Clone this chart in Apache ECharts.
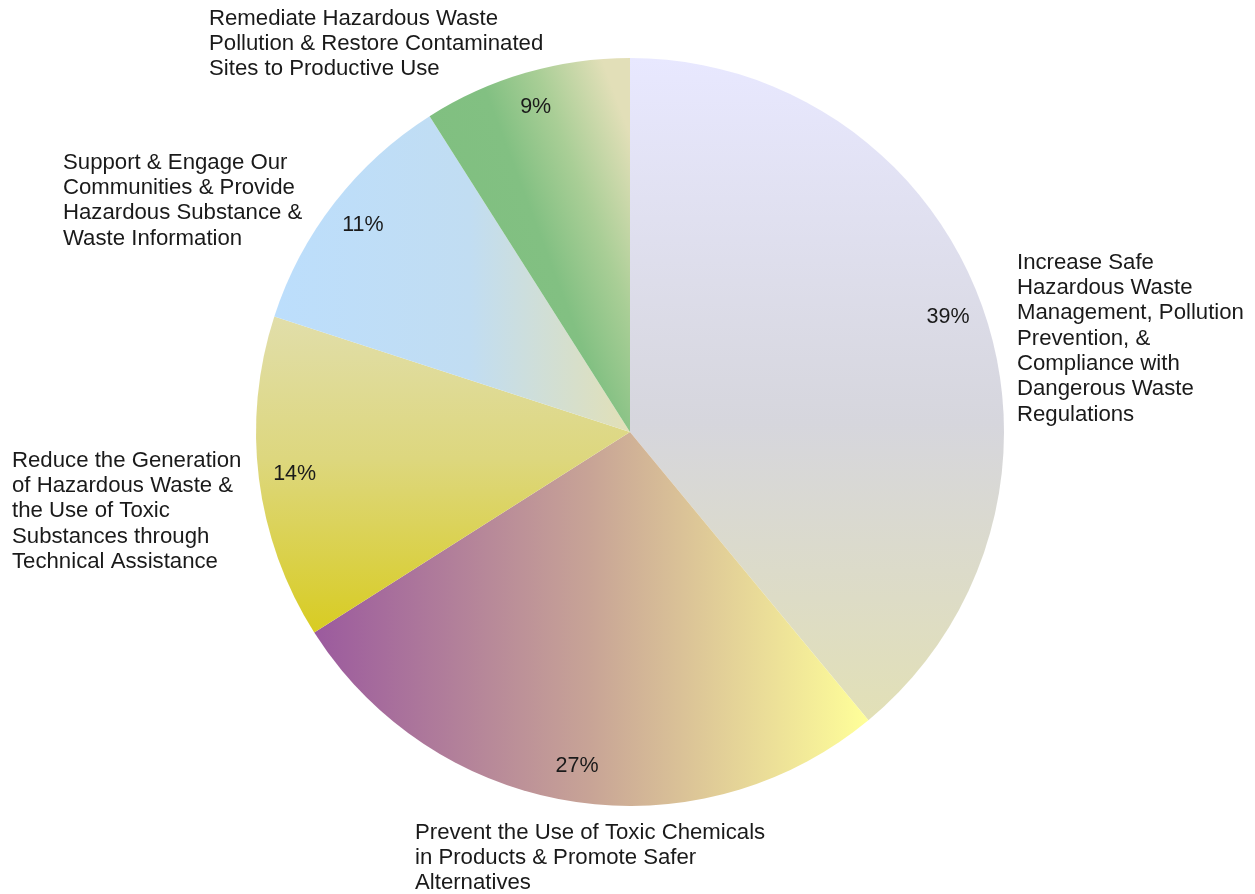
<!DOCTYPE html>
<html>
<head>
<meta charset="utf-8">
<title>Hazardous Waste and Toxics Reduction – Share of Effort</title>
<script src="https://cdn.jsdelivr.net/npm/echarts@6/dist/echarts.min.js"></script>
<style>
  html, body { margin: 0; padding: 0; background: #ffffff; }
  #chart { width: 1255px; height: 894px; }
</style>
</head>
<body>
<div id="chart"></div>
<script>
// Program areas, clockwise from 12 o'clock
const categories = [
  'Increase Safe\nHazardous Waste\nManagement, Pollution\nPrevention, &\nCompliance with\nDangerous Waste\nRegulations',
  'Prevent the Use of Toxic Chemicals\nin Products & Promote Safer\nAlternatives',
  'Reduce the Generation\nof Hazardous Waste &\nthe Use of Toxic\nSubstances through\nTechnical Assistance',
  'Support & Engage Our\nCommunities & Provide\nHazardous Substance &\nWaste Information',
  'Remediate Hazardous Waste\nPollution & Restore Contaminated\nSites to Productive Use'
];

// Share of each program area, in percent
const shares = [39, 27, 14, 11, 9];

// Slice fills (gradients relative to each slice's bounding box)
const sliceFills = [
  { type: 'linear', x: 0, y: 0, x2: 0, y2: 1, colorStops: [
    { offset: 0, color: '#E8E8FF' }, { offset: 0.55, color: '#D6D6DD' }, { offset: 1, color: '#E2E0B6' } ] },
  { type: 'linear', x: 0, y: 0, x2: 1, y2: 0, colorStops: [
    { offset: 0, color: '#9B5A9E' }, { offset: 0.5, color: '#C8A496' }, { offset: 1, color: '#FFFF99' } ] },
  { type: 'linear', x: 0, y: 0, x2: 0, y2: 1, colorStops: [
    { offset: 0, color: '#E1DEAA' }, { offset: 0.45, color: '#DDD77E' }, { offset: 1, color: '#D8CC22' } ] },
  { type: 'linear', x: 0, y: 0, x2: 1, y2: 0, colorStops: [
    { offset: 0, color: '#BCDEFC' }, { offset: 0.55, color: '#C1DDF2' }, { offset: 1, color: '#E2E0B6' } ] },
  { type: 'linear', x: 0, y: 0.6, x2: 1.12, y2: 0.374, colorStops: [
    { offset: 0, color: '#7FBF7F' }, { offset: 0.5, color: '#82C082' }, { offset: 0.73, color: '#A9CE96' }, { offset: 1, color: '#E2DFB8' } ] }
];

// Top-left corners of the category text blocks
const nameLabelAnchors = [[1017, 250], [415, 820], [12, 448], [63, 150], [209, 6]];

const FONT = "'Liberation Sans', Arial, Helvetica, sans-serif";
const CENTER = [630, 432];
const RADIUS = 374;

const chart = echarts.init(document.getElementById('chart'), null, { renderer: 'canvas' });

chart.setOption({
  backgroundColor: '#ffffff',
  animation: false,
  series: [
    {
      // Slices with their category names outside
      type: 'pie',
      center: CENTER,
      radius: [0, RADIUS],
      startAngle: 90,
      clockwise: true,
      avoidLabelOverlap: false,
      silent: true,
      itemStyle: { borderWidth: 0 },
      label: {
        show: true,
        position: 'outside',
        formatter: '{b}',
        color: '#1a1a1a',
        fontFamily: FONT,
        fontSize: 22.2,
        lineHeight: 25.3,
        align: 'left'
      },
      labelLine: { show: false },
      labelLayout: function (params) {
        const a = nameLabelAnchors[params.dataIndex];
        return { x: a[0], y: a[1], align: 'left', verticalAlign: 'top' };
      },
      data: categories.map((name, i) => ({
        name: name,
        value: shares[i],
        itemStyle: { color: sliceFills[i] }
      }))
    },
    {
      // Transparent outer ring carrying the percentage labels
      type: 'pie',
      center: CENTER,
      radius: [296, RADIUS],
      startAngle: 90,
      clockwise: true,
      silent: true,
      avoidLabelOverlap: false,
      itemStyle: { color: 'rgba(0,0,0,0)', borderWidth: 0 },
      label: {
        show: true,
        position: 'inside',
        formatter: '{c}%',
        color: '#1a1a1a',
        fontFamily: FONT,
        fontSize: 21.5
      },
      labelLine: { show: false },
      data: categories.map((name, i) => ({ name: name, value: shares[i] }))
    }
  ]
});
</script>
</body>
</html>
